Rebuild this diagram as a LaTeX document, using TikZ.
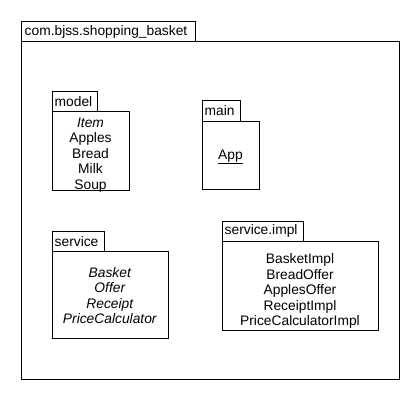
\documentclass[tikz,border=0pt]{standalone}
\usepackage{fontspec}
\setmainfont{Liberation Sans}
\begin{document}
\begin{tikzpicture}[x=1pt,y=-1pt,
  box/.style={draw=black,line width=0.8pt,fill=white},
  txt/.style={inner sep=0pt,font=\fontsize{13.8}{15.5}\selectfont,align=center}]
\useasboundingbox[fill=white] (0,0) rectangle (420,400);
% outer package
\draw[box] (21.5,21.5) rectangle (195.5,41.5);
\draw[box] (21.5,41.5) rectangle (399.5,379.5);
\node[txt,anchor=west] (outer) at (24.5,31.5) {com.bjss.shopping\_basket};
% model
\draw[box] (52,91.5) rectangle (97.5,111.5);
\draw[box] (52,111.5) rectangle (129.5,190);
\node[txt,anchor=west] (modeltab) at (54.5,101.5) {model};
\node[txt] (model) at (90.5,155) {\textit{Item}\\Apples\\Bread\\Milk\\Soup};
% main
\draw[box] (202,100.5) rectangle (240,121);
\draw[box] (202,121) rectangle (259,189);
\node[txt,anchor=west] (maintab) at (204.5,111) {main};
\node[txt] (app) at (230.5,157) {\underline{App}};
% service
\draw[box] (52,231.5) rectangle (104,251.5);
\draw[box] (52,251.5) rectangle (168,338);
\node[txt,anchor=west] (servicetab) at (54.5,241.5) {service};
\node[txt] (service) at (110,295.5) {\textit{Basket}\\\textit{Offer}\\\textit{Receipt}\\\textit{PriceCalculator}};
% service.impl
\draw[box] (222,221) rectangle (303,241);
\draw[box] (222,241) rectangle (378,330);
\node[txt,anchor=west] (impltab) at (224.5,231) {service.impl};
\node[txt] (impl) at (300,291) {BasketImpl\\BreadOffer\\ApplesOffer\\ReceiptImpl\\PriceCalculatorImpl};
\end{tikzpicture}
\end{document}
